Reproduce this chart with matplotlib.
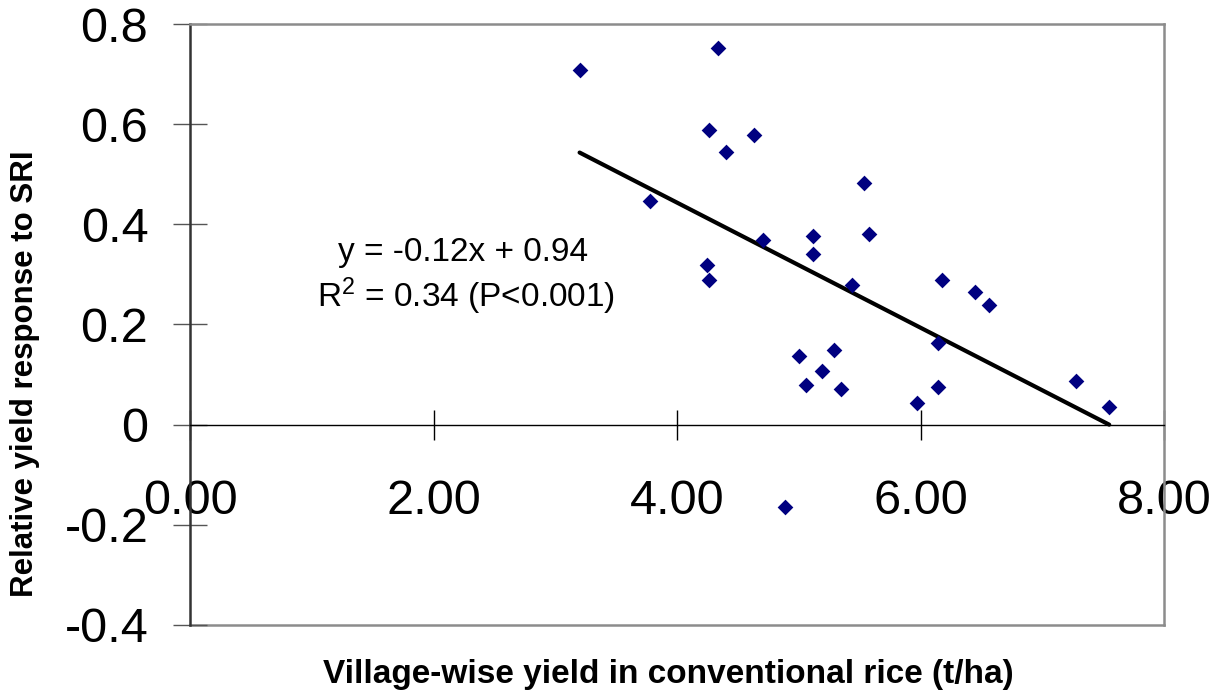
import numpy as np
import matplotlib
matplotlib.use('Agg')
import matplotlib.pyplot as plt
from matplotlib.ticker import FuncFormatter

plt.rcParams['font.family'] = ['Liberation Sans', 'DejaVu Sans']
plt.rcParams['mathtext.fontset'] = 'custom'
plt.rcParams['mathtext.rm'] = 'Liberation Sans'
plt.rcParams['mathtext.it'] = 'Liberation Sans'

# village-wise yields (t/ha) and relative yield response to SRI
yield_conv = [3.20, 4.34, 4.26, 4.63, 4.40, 3.78, 5.54, 4.25, 4.26, 4.71,
              5.12, 5.12, 5.58, 5.44, 6.18, 6.45, 6.56, 5.00, 5.29, 5.19,
              5.06, 5.35, 6.14, 6.14, 5.97, 7.28, 7.55, 4.89]
response = [0.708, 0.753, 0.589, 0.579, 0.544, 0.447, 0.482, 0.318, 0.288, 0.368,
            0.376, 0.341, 0.381, 0.279, 0.289, 0.265, 0.239, 0.138, 0.150, 0.107,
            0.080, 0.071, 0.163, 0.075, 0.044, 0.088, 0.035, -0.164]

# trend line as drawn in the original
trend_slope = -0.1249
trend_intercept = 0.943

x_ticks = [0, 2, 4, 6, 8]
y_ticks = [-0.4, -0.2, 0, 0.2, 0.4, 0.6, 0.8]

eq_text = 'y = -0.12x + 0.94'
r2_text = r'R$^{2}$ = 0.34 (P<0.001)'

x = np.array(yield_conv)
y = np.array(response)

fig = plt.figure(figsize=(12.16, 6.95), dpi=100)
ax = fig.add_axes([190/1216, 1 - 625/695, (1164 - 190)/1216, (625 - 24)/695])

ax.scatter(x, y, marker='D', s=8**2, color='#000080', zorder=3, linewidths=0)

# linear trend line over the data range
xl = np.array([x.min(), x.max()])
ax.plot(xl, trend_slope*xl + trend_intercept, color='black', lw=3,
        solid_capstyle='round', zorder=2)

ax.set_xlim(0, 8)
ax.set_ylim(-0.4, 0.8)
ax.set_xticks(x_ticks)
ax.set_yticks(y_ticks)
ax.xaxis.set_major_formatter(FuncFormatter(lambda v, p: '%.2f' % v))
ax.yaxis.set_major_formatter(FuncFormatter(lambda v, p: '%g' % round(v, 1)))

# spines: x axis sits at y=0, grey frame around plot area
ax.spines['bottom'].set_position(('data', 0))
ax.spines['bottom'].set_color('black')
ax.spines['bottom'].set_linewidth(1)
ax.spines['left'].set_color('#333333')
ax.spines['left'].set_linewidth(1.8)
for s in ['top', 'right']:
    ax.spines[s].set_color('#8c8c8c')
    ax.spines[s].set_linewidth(1.8)
ax.plot([0, 1], [0, 0], transform=ax.transAxes, color='#8c8c8c', lw=1.8,
        clip_on=False, zorder=1)

ax.tick_params(axis='y', direction='inout', length=24, width=1, color='#555555',
               labelsize=35, pad=18)
ax.tick_params(axis='x', direction='inout', length=22, width=1, color='black',
               labelsize=35, pad=28)

fig.text(463/1216, 1 - 253/695, eq_text, fontsize=24, ha='center', va='center')
fig.text(466/1216, 1 - 296/695, r2_text, fontsize=24, ha='center', va='center')

fig.text(25/1216, 1 - 374/695, 'Relative yield response to SRI', rotation=90,
         fontsize=22.5, fontweight='bold', ha='center', va='center')
fig.text(668/1216, 1 - 675/695, 'Village-wise yield in conventional rice (t/ha)',
         fontsize=24, fontweight='bold', ha='center', va='center')

fig.savefig('out.png', dpi=100)
